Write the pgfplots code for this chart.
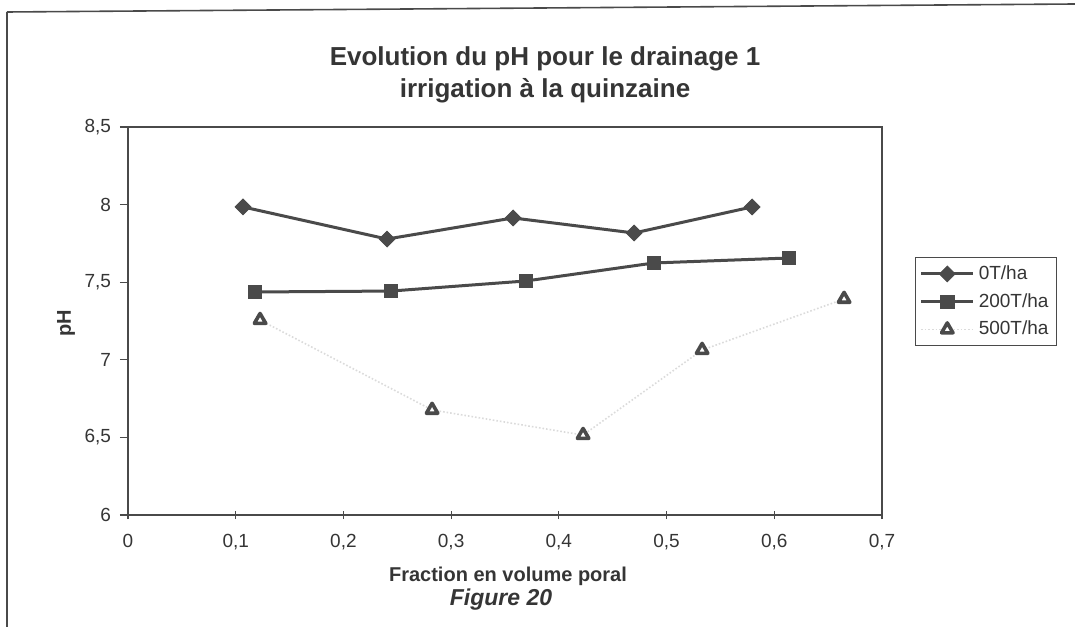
\documentclass[border=0pt]{standalone}
\usepackage{fontspec}
\setmainfont{Liberation Sans}
\usepackage{pgfplots}
\pgfplotsset{compat=1.18}

\definecolor{ink}{HTML}{4A4A4A}
\definecolor{txt}{HTML}{353535}

\begin{document}
\begin{tikzpicture}
\useasboundingbox (0,0) rectangle (537.5pt,313.5pt);

\begin{axis}[
    at={(64pt,56pt)}, anchor=south west,
    scale only axis,
    width=377pt, height=194pt,
    xmin=0, xmax=0.7,
    ymin=6, ymax=8.5,
    xtick={0,0.1,0.2,0.3,0.4,0.5,0.6,0.7},
    ytick={6,6.5,7,7.5,8,8.5},
    xtick pos=lower, ytick pos=left,
    xtick align=center, ytick align=outside,
    major tick length=4pt,
    tick style={ink, line width=0.6pt},
    axis line style={ink, line width=1pt},
    /pgf/number format/assume math mode=true,
    /pgf/number format/use comma,
    ticklabel style={font=\fontsize{9.5}{11}\selectfont, text=txt},
    xticklabel style={yshift=-4pt},
    yticklabel style={xshift=-1pt},
    legend style={
        at={(1.044,0.665)}, anchor=north west,
        draw=ink, line width=0.6pt,
        font=\fontsize{9.5}{11}\selectfont, text=txt,
        row sep=1.5pt, inner sep=2pt,
        cells={anchor=west}
    },
    legend image code/.code={
        \draw[mark repeat=2, mark phase=2, #1]
            plot coordinates {(0pt,0pt) (13pt,0pt) (26pt,0pt)};
    },
    clip=false
]

    % 0 T/ha
    \addplot[ink, line width=1.5pt, mark=square*, mark size=2.8pt,
        mark options={solid, rotate=45, line width=0.4pt}]
        coordinates {
            (0.1068,7.985)
            (0.2405,7.778)
            (0.3575,7.914)
            (0.4698,7.817)
            (0.5794,7.985)
        };
    \addlegendentry{0T/ha}

    % 200 T/ha
    \addplot[ink, line width=1.5pt, mark=square*, mark size=3.4pt,
        mark options={solid, line width=0.4pt}]
        coordinates {
            (0.1179,7.437)
            (0.2442,7.443)
            (0.3695,7.508)
            (0.4884,7.624)
            (0.6137,7.656)
        };
    \addlegendentry{200T/ha}

    % 500 T/ha
    \addplot[black!14, densely dotted, line width=0.8pt,
        mark=triangle*, mark size=3.3pt,
        mark options={solid, draw=ink, fill=white, line width=1.8pt, line join=round}]
        coordinates {
            (0.1226,7.256)
            (0.2823,6.677)
            (0.4225,6.515)
            (0.5330,7.063)
            (0.6648,7.392)
        };
    \addlegendentry{500T/ha}

\end{axis}

\begin{scope}[x=0.5pt, y=-0.5pt, shift={(0pt,313.5pt)}]
    % cadre
    \draw[ink, line width=0.8pt] (7,12) -- (1075,4);
    \draw[ink, line width=0.8pt] (7,12) -- (7,627);

    % titres
    \node[anchor=base, text=txt, font=\fontsize{13}{15}\selectfont\bfseries]
        at (545,66) {Evolution du pH pour le drainage 1};
    \node[anchor=base, text=txt, font=\fontsize{13}{15}\selectfont\bfseries]
        at (545,98) {irrigation à la quinzaine};

    \node[text=txt, font=\fontsize{10}{12}\selectfont\bfseries]
        at (508,576) {Fraction en volume poral};
    \node[text=txt, font=\fontsize{11.5}{13}\selectfont\bfseries\itshape]
        at (501,600) {Figure 20};
    \node[text=txt, rotate=90, font=\fontsize{10}{12}\selectfont\bfseries]
        at (66,323) {pH};
\end{scope}
\end{tikzpicture}
\end{document}
